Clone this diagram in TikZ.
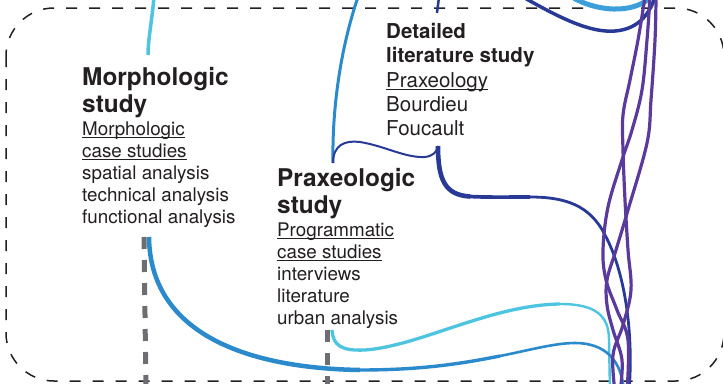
\documentclass[tikz,border=0pt]{standalone}
\usepackage{fontspec}
\setmainfont{TeX Gyre Heros}
\definecolor{ink}{HTML}{231F20}
\definecolor{lcyan}{HTML}{4DC4E0}
\definecolor{mblue}{HTML}{2A8ACB}
\definecolor{tblue}{HTML}{3C9FDA}
\definecolor{dblue}{HTML}{283A96}
\definecolor{purp}{HTML}{5A3A9C}
\definecolor{greyd}{HTML}{6D6E71}
\newcommand\myul[1]{\setbox0=\hbox{#1}\rlap{\rule[-2.4pt]{\wd0}{0.9pt}}\box0}
\newcommand\tightls{\lineskiplimit=-100pt\relax}
\newcommand\bdyA{\fontsize{18.8}{22}\mdseries\selectfont}
\newcommand\ttlA{\fontsize{24.4}{22}\bfseries\selectfont}
\newcommand\bdyB{\fontsize{20.5}{24.3}\mdseries\selectfont}
\newcommand\ttlB{\fontsize{20.5}{24.3}\bfseries\selectfont}
\tikzset{
  txt/.style={inner sep=0pt, anchor=north west, align=left, text=ink},
  frame/.style={draw=ink, line width=1.5pt, dash pattern=on 11pt off 12pt, rounded corners=48pt},
  gdash/.style={draw=greyd, line width=5pt, dash pattern=on 12pt off 11pt},
  braid/.style={draw=purp, line width=3.2pt},
}
\begin{document}
\begin{tikzpicture}[x=1pt,y=-1pt]
\useasboundingbox (0,0) rectangle (723,383);
\clip (0,0) rectangle (723,383);
\draw[frame] (6,8) rectangle (724,381);

% text nodes
\node[txt, font={\bdyA\tightls}] (morph) at (82,67)
  {\rule{0pt}{18pt}\ttlA Morphologic\\[5pt]\ttlA study\\[1pt]\myul{Morphologic}\\\myul{case studies}\\spatial analysis\\technical analysis\\functional analysis};
\node[txt, font={\bdyA\tightls}] (prax) at (277,168)
  {\rule{0pt}{18pt}\ttlA Praxeologic\\[5pt]\ttlA study\\[1pt]\myul{Programmatic}\\\myul{case studies}\\interviews\\literature\\urban analysis};
\node[txt, font={\bdyB\tightls}] (detail) at (386,22)
  {\rule{0pt}{16pt}\ttlB Detailed\\\ttlB literature study\\[0.5pt]\myul{Praxeology}\\Bourdieu\\Foucault};

% anchor coordinates
\coordinate (mtop) at (148,55);
\coordinate (mbot) at (149,237);
\coordinate (mgrey) at (144,237);
\coordinate (ptop) at (333,163);
\coordinate (pbot) at (332,330);
\coordinate (pgrey) at (327,330);
\coordinate (dtop) at (437,13);
\coordinate (dbot) at (438,146);
\coordinate (e1) at (154,-3);
\coordinate (e2) at (358,-3);
\coordinate (e3) at (439,-3);
\coordinate (e4) at (146,392);
\coordinate (e5) at (327,392);

% grey dashed
\draw[gdash] (mgrey) -- (e4);
\draw[gdash] (pgrey) -- (e5);

% blue connectors
\draw[lcyan, line width=3.5pt] (e1) .. controls (152,20) and (148,40) .. (mtop);
\draw[mblue, line width=3pt] (e2) .. controls (340,50) and (332,110) .. (ptop);
\draw[dblue, line width=2pt] (ptop) .. controls (333,145) and (345,140) .. (360,142)
   .. controls (385,146) and (405,158) .. (425,157) .. controls (433,156) and (437,152) .. (dbot);
\draw[dblue, line width=2.5pt] (e3) -- (dtop);
\draw[dblue, line width=4.6pt] (dbot) .. controls (438,180) and (445,195) .. (470,196.5);
\draw[dblue, line width=3.7pt] (470,196.5) .. controls (490,197.5) and (510,197) .. (530,197);
\draw[dblue, line width=2.8pt] (530,197) .. controls (565,197) and (590,205) .. (605,235)
   .. controls (624,270) and (634,330) .. (629,392);
\draw[tblue, line width=5pt] (572,-3) .. controls (595,11) and (632,15) .. (651,-3);
\draw[dblue, line width=3.5pt] (523,-3) .. controls (560,18) and (590,33) .. (615,31)
   .. controls (640,29) and (650,12) .. (655,-3);

\draw[lcyan, line width=3.3pt] (pbot) .. controls (333,346) and (342,351) .. (365,350)
   .. controls (420,346) and (490,305) .. (560,304);
\draw[lcyan, line width=2.4pt] (560,304) .. controls (595,304) and (609,315) .. (609,340) -- (610,392);
\draw[mblue, line width=4.5pt] (mbot) .. controls (150,330) and (240,368) .. (360,370);
\draw[mblue, line width=3.4pt] (360,370) .. controls (420,370) and (460,364) .. (500,356);
\draw[mblue, line width=2.6pt] (500,356) .. controls (530,350) and (555,343) .. (575,343)
   .. controls (605,343) and (622,360) .. (624,392);

% purple braid
\draw[braid] plot[smooth, tension=0.6] coordinates {(645,-3) (638,40) (630,80) (623,115) (623,150) (625,200) (628,250) (631,290) (623,325) (613,355) (615,392)};
\draw[braid] plot[smooth, tension=0.6] coordinates {(650,-3) (647,40) (642,90) (632,130) (622,160) (608,207) (603,250) (606,280) (617,310) (628,340) (627,392)};
\draw[braid] plot[smooth, tension=0.6] coordinates {(656,-3) (655,40) (651,100) (647,143) (628,210) (616,250) (607,280) (607,305) (613,330) (622,360) (620,392)};
\end{tikzpicture}
\end{document}
